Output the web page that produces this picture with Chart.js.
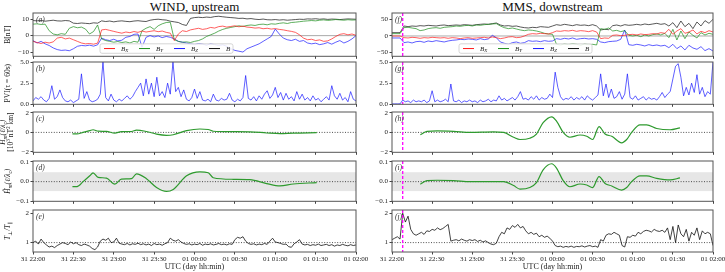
<!DOCTYPE html>
<html>
<head>
<meta charset="utf-8">
<script src="https://cdn.jsdelivr.net/npm/chart.js@4.4.0/dist/chart.umd.min.js"></script>
<style>
body { margin: 0; background: #fff; width: 725px; height: 272px; overflow: hidden; position: relative; }
canvas { position: absolute; }
.ttl { position: absolute; top: -1px; line-height: 14px; font: 13px "Liberation Serif", serif; text-align: center; color: #111; }
</style>
</head>
<body>
<div class="ttl" style="left:33px;width:323px">WIND, upstream</div>
<div class="ttl" style="left:392px;width:321px">MMS, downstream</div>
<script>
// time axis, minutes after 31 22:00
const X_TICKS = [0, 30, 60, 90, 120, 150, 180, 210, 240];
const X_TICK_LABELS = ['31 22:00', '31 22:30', '31 23:00', '31 23:30', '01 00:00', '01 00:30', '01 01:00', '01 01:30', '01 02:00'];
const SERIES_NAMES = ['B_X', 'B_Y', 'B_Z', 'B'];
const SHOCK_TIME = 8;
const BAND = 0.048;

// sample times (min) of the field, PVI and temperature records
const T3 = Array.from({ length: 81 }, (_, i) => 3 * i);
const T2 = Array.from({ length: 121 }, (_, i) => 2 * i);

const windBx = [-3.5,-4.2,-4.8,-4.0,-4.5,-3.8,-1.5,-1.0,-2.0,-1.5,
  -2.5,-3.5,-4.5,-5.0,-4.8,-5.2,-4.6,3.5,3.8,3.2,
  2.6,2.0,1.5,2.2,1.8,2.5,2.0,2.8,2.2,2.6,
  3.0,2.4,2.8,2.0,1.5,-3.0,1.0,3.0,2.5,3.5,
  4.0,4.5,3.8,4.2,5.0,4.6,5.5,5.8,5.2,5.6,
  6.0,5.4,5.8,5.2,5.0,4.6,4.8,4.2,4.5,4.0,
  4.3,3.8,3.5,3.0,2.6,2.0,0.5,-1.5,-2.5,-2.2,
  -3.0,-2.6,-3.5,-3.2,-2.0,-0.5,0.8,1.2,0.5,1.0,
  0.2];
const windBy = [7.0,7.2,6.8,7.0,3.0,1.0,0.5,1.2,0.8,4.5,
  5.5,4.8,5.2,4.0,1.0,2.5,6.5,-2.0,-3.0,-3.5,
  -4.0,-3.6,-4.2,-3.8,-4.5,-3.5,-4.0,3.0,4.5,5.5,
  3.8,6.0,7.2,8.0,8.2,-2.5,-3.5,-4.0,-3.8,-4.2,
  -3.5,-3.0,-2.0,-0.5,0.5,1.5,2.8,3.8,4.5,5.0,
  5.5,6.0,5.6,6.2,6.5,6.2,6.8,7.0,6.6,7.2,
  7.0,7.5,7.8,7.4,8.0,8.2,8.5,8.8,9.0,9.2,
  9.0,9.4,9.6,9.3,9.5,9.8,9.6,9.4,9.7,9.5,
  9.6];
const windBz = [-3.0,-4.5,-3.5,-5.0,-6.0,-7.5,-8.5,-9.0,-8.8,-9.2,
  -8.0,-6.5,-6.0,-6.2,-5.8,-6.4,-5.6,-1.5,-2.5,-3.0,
  -2.2,-3.2,-2.8,-1.0,-0.5,0.8,1.0,-7.0,-1.0,0.0,
  -0.8,-0.2,-1.2,-0.5,-1.0,-2.0,-3.5,-4.0,-4.5,-5.0,
  -5.5,-4.8,-5.2,-5.8,-5.0,-5.5,-6.0,-5.6,-6.5,-8.0,
  -9.0,-9.5,-10.0,-8.0,-7.0,-6.0,-5.0,-3.5,-2.0,-0.5,
  4.0,1.0,-1.5,-2.5,-3.0,-2.2,-3.5,-3.0,-4.5,-5.0,
  -4.6,-5.5,-5.0,-4.2,-5.2,-4.0,-3.0,-4.5,-3.5,-2.0,
  0.0];
const windB = [9.2,9.0,9.3,8.8,9.1,9.4,9.0,8.9,9.2,9.0,
  7.6,7.4,7.7,7.5,7.3,7.8,7.6,9.0,8.6,8.9,
  8.4,8.8,9.0,8.7,8.5,8.9,9.1,8.8,8.6,9.4,
  9.8,10.0,9.7,9.5,8.8,8.4,8.0,6.8,6.2,10.5,
  11.0,11.2,11.0,11.3,11.1,11.6,11.8,11.5,11.2,11.0,
  10.8,10.5,10.6,10.2,10.4,10.0,9.8,10.1,9.7,9.6,
  9.8,9.5,9.7,9.4,9.6,9.8,10.0,9.9,10.2,10.1,
  10.3,10.0,10.2,9.9,10.1,10.0,9.8,10.0,10.2,10.1,
  10.0];

const mmsBx = [0,0,0,-5,-6,-4,-5,-7,-5,-6,
  -4,-5,-6,-5,-7,-5,-6,-8,-6,-5,
  -7,-6,-5,-4,-6,-3,-5,-8,-6,-3,
  -2,-5,-4,0,5,7,6,8,7,6,
  10,15,14,16,15,17,14,16,15,13,
  16,12,-8,-6,-7,2,3,1,2,4,
  5,3,6,4,5,7,6,10,8,20,
  5,15,22,8,12,18,6,14,10,16,
  12];
const mmsBy = [7,7,7,25,26,24,22,16,18,22,
  24,25,23,26,27,28,30,29,31,32,
  30,33,32,34,35,36,37,30,25,22,
  24,21,18,16,18,17,15,12,8,6,
  5,-25,-27,-24,-26,-23,-25,-28,-24,-26,
  -25,-27,22,20,24,15,17,13,16,2,
  0,2,-2,3,0,4,6,3,8,-5,
  20,-12,15,-8,12,2,-6,10,3,8,
  5];
const mmsBz = [-6,-6,-6,-20,-18,-21,-17,-16,-19,-15,
  -17,-14,-16,-18,-15,-13,-12,-10,-11,-9,
  -10,-12,-8,-11,-9,2,-5,-18,-22,-25,
  -20,-18,-22,-20,-14,-16,-15,-17,-14,-16,
  -15,-8,-10,-7,-9,-6,-10,-8,-7,-9,
  -8,-10,-18,-20,-17,-16,-15,-10,18,-26,
  -28,-25,-27,-30,-26,-29,-27,-30,-28,-35,
  -25,-38,-30,-42,-28,-36,-40,-32,-44,-38,
  -45];
const mmsB = [10,10,10,30,28,30,29,31,30,32,
  31,30,32,33,31,32,33,32,34,33,
  32,34,35,36,35,37,39,33,30,31,
  29,30,27,25,24,26,25,28,27,26,
  30,34,32,35,33,31,34,32,33,31,
  34,30,18,20,19,31,33,30,34,32,
  33,35,33,36,34,36,38,35,37,30,
  40,25,45,28,38,22,42,30,46,38,
  50];

const windPvi = [0.4,0.8,0.6,0.9,0.5,0.3,0.7,2.2,0.6,0.9,
  1.7,0.8,0.4,0.3,0.5,0.2,0.4,0.6,3.6,0.7,
  1.5,0.5,0.3,0.4,0.6,1.2,5.0,0.8,0.4,1.2,
  0.5,0.3,0.6,0.4,0.7,1.0,0.6,0.9,1.5,2.0,
  2.5,1.0,3.0,1.2,2.5,0.9,3.2,1.0,1.5,0.8,
  2.5,1.2,5.0,1.5,2.0,0.9,1.7,0.6,0.4,0.8,
  1.8,0.7,1.5,0.5,0.4,0.6,0.3,1.2,0.5,0.4,
  0.7,0.5,0.6,1.3,0.5,0.3,0.6,0.4,0.8,3.4,
  0.7,0.5,0.9,0.4,1.0,0.6,1.2,1.6,0.7,1.1,
  2.0,0.8,1.4,0.5,1.3,0.6,0.9,0.4,1.5,0.6,
  1.2,0.5,0.8,0.4,1.0,0.5,0.7,0.3,0.6,0.9,
  0.5,2.2,1.0,0.6,1.3,0.5,0.8,0.3,1.5,0.6,
  0.4];
const mmsPvi = [0.05,0.05,0.05,0.05,0.5,0.3,0.4,0.2,0.5,0.3,
  0.4,0.3,0.5,0.2,0.4,1.6,0.3,0.5,0.3,0.4,
  0.6,0.3,2.4,0.4,0.3,0.5,0.2,0.4,0.3,0.5,
  0.3,0.4,0.2,0.5,0.3,0.4,0.6,0.3,0.5,0.4,
  1.0,0.5,0.7,0.4,0.6,0.8,0.5,0.9,1.5,0.6,
  0.7,0.5,0.9,0.6,1.0,0.5,0.8,0.6,0.7,1.2,
  0.8,3.8,2.0,0.9,0.5,0.7,0.6,0.9,0.5,0.8,
  0.6,0.9,0.5,1.0,0.7,0.5,0.8,1.1,3.6,1.0,
  2.4,0.8,1.8,0.7,0.9,1.5,0.6,1.2,3.6,0.8,
  0.6,1.0,0.5,0.7,0.9,0.5,0.8,0.6,0.7,0.5,
  0.9,1.4,0.8,1.2,1.5,3.0,4.5,4.8,3.2,1.0,
  2.0,1.1,2.5,1.4,3.5,1.2,2.0,0.9,1.5,1.2,
  5.0];

const windHTimes = [29.3,32.7,37.2,42.2,44.6,48.4,54.6,60.8,65.7,73.2,76.9,84.3,91.8,99.2,104.2,114.1,124.0,130.2,133.9,148.8,161.2,173.6,183.5,193.4,210.8];
const windHm = [-0.15,-0.15,0.0,0.18,0.27,0.13,0.1,-0.08,0.08,0.09,0.24,0.09,-0.18,-0.3,-0.24,0.18,0.35,0.3,0.12,0.07,0.06,-0.06,-0.13,-0.07,-0.03];
const windHmNorm = [-0.025,-0.025,0.0,0.03,0.045,0.022,0.018,-0.013,0.013,0.015,0.04,0.015,-0.03,-0.05,-0.04,0.03,0.05,0.045,0.02,0.012,0.01,-0.01,-0.022,-0.012,-0.005];

const mmsHTimes = [21.2,26.1,33.6,46.1,58.5,75.9,83.4,90.9,95.7,103,108,113,119.4,123,128,133,140.6,145.6,150,154.8,159.3,164.3,171.7,175.5,179.2,185.4,190.4,197.9,207.9,215.3];
const mmsHm = [-0.25,0.1,0.15,0.1,0.0,0.05,0.0,-0.5,-0.73,-0.6,-0.17,1.0,1.6,1.17,0.0,-0.5,-0.27,-0.4,-0.73,0.6,-0.17,-0.4,-1.07,-0.73,0.0,0.77,0.77,0.4,0.27,0.47];
const mmsHmNorm = [-0.013,0.005,0.007,0.005,0.0,0.0,0.0,-0.02,-0.038,-0.03,-0.005,0.06,0.091,0.069,0.005,-0.026,-0.012,-0.017,-0.03,0.026,-0.009,-0.022,-0.043,-0.03,0.0,0.029,0.029,0.017,0.009,0.019];

const windTratio = [1.0,1.05,0.95,1.12,1.0,0.92,0.85,0.88,0.83,0.9,
  0.95,1.0,0.97,0.93,1.02,0.96,1.0,0.93,0.9,0.95,
  0.92,0.88,0.8,0.76,0.85,1.05,1.12,1.08,1.15,1.0,
  1.02,1.15,0.98,0.95,0.93,0.97,0.92,0.96,0.94,0.98,
  0.93,0.96,0.92,0.95,0.9,0.97,0.93,0.95,0.91,0.96,
  1.0,1.15,1.08,1.05,1.1,1.02,0.97,0.94,0.96,0.92,
  0.95,0.93,0.97,0.91,0.95,0.93,0.96,0.92,0.94,0.97,
  0.93,0.95,0.92,0.96,0.94,1.1,1.18,1.15,1.2,1.05,
  0.97,0.94,0.96,0.92,0.95,0.93,0.97,0.94,1.05,1.15,
  1.02,1.0,0.97,0.94,0.95,0.86,0.84,0.96,1.02,1.1,
  0.95,0.92,0.94,0.9,0.93,0.91,0.95,0.9,0.92,0.94,
  0.9,0.93,0.88,0.92,0.9,0.94,0.91,0.89,0.93,0.9,
  0.92];
const mmsTratio = [1.1,1.15,1.2,1.12,2.0,1.7,1.9,1.45,1.3,1.25,
  1.3,1.35,1.28,1.4,1.38,1.45,1.42,1.5,1.44,1.48,
  1.55,1.62,1.05,1.08,1.1,1.06,1.12,1.08,1.05,1.1,
  1.07,1.1,1.04,1.08,1.02,1.06,1.0,0.95,0.93,0.98,
  1.2,1.35,1.3,1.5,1.45,1.58,1.52,1.62,1.5,1.55,
  1.4,1.3,1.35,1.28,1.32,1.2,1.25,1.18,1.22,1.15,
  1.05,0.9,0.86,0.88,0.84,0.87,0.85,0.88,0.84,0.87,
  0.86,0.89,0.85,0.88,0.9,0.86,0.88,0.84,1.1,1.05,
  1.25,1.3,1.28,1.35,1.3,1.25,0.9,0.85,1.2,1.18,
  1.25,1.22,1.35,1.3,1.38,1.42,1.4,1.36,1.45,1.4,
  1.38,1.42,1.35,1.5,1.1,1.55,1.0,1.6,1.3,1.2,
  1.45,1.05,1.35,1.25,1.5,1.1,1.4,1.3,1.35,1.3,
  0.9];

// y ticks per panel kind
const WIND_B_TICKS = [-10, 0, 10];
const MMS_B_TICKS = [-50, 0, 50];
const PVI_TICKS = [0, 2.5, 5];
const HM_TICKS = [-2, 0, 2];
const HMN_TICKS = [-0.1, 0, 0.1];
const T_TICKS = [1, 2];

const SERIF = '"Liberation Serif", "DejaVu Serif", serif';
const COLS = [
  { left: 0, width: 380, plotL: 33, plotR: 356 },
  { left: 362, width: 363, plotL: 392, plotR: 713 }
];
const ROWS = [[13, 57], [62, 105], [112, 153], [161, 202], [210, 252]];

function pts(times, vals) {
  return vals.map((v, i) => ({ x: times[i], y: v }));
}

function fmt(v, dec) {
  const s = Math.abs(v).toFixed(dec);
  return v < 0 ? '\u2212' + s : s;
}

// tiny markup: _x or _{..} subscript, ^x or ^{..} superscript
function richParts(s) {
  const out = [];
  let i = 0;
  while (i < s.length) {
    const ch = s[i];
    if ((ch === '_' || ch === '^') && i + 1 < s.length) {
      let txt;
      if (s[i + 1] === '{') {
        const k = s.indexOf('}', i + 1);
        txt = s.slice(i + 2, k);
        i = k + 1;
      } else {
        txt = s[i + 1];
        i += 2;
      }
      out.push({ t: txt, k: ch === '_' ? 'sub' : 'sup' });
    } else {
      let j = i;
      while (j < s.length && s[j] !== '_' && s[j] !== '^') j++;
      out.push({ t: s.slice(i, j), k: 'n' });
      i = j;
    }
  }
  return out;
}

function setFont(ctx, size, italic) {
  ctx.font = (italic ? 'italic ' : '') + size + 'px ' + SERIF;
}

function drawRich(ctx, s, x, y, size, italic, align) {
  const parts = richParts(s);
  let w = 0;
  parts.forEach(q => {
    setFont(ctx, q.k === 'n' ? size : size * 0.7, italic);
    w += ctx.measureText(q.t).width;
  });
  let cx = align === 'center' ? x - w / 2 : (align === 'right' ? x - w : x);
  ctx.textAlign = 'left';
  ctx.textBaseline = 'alphabetic';
  parts.forEach(q => {
    setFont(ctx, q.k === 'n' ? size : size * 0.7, italic);
    const dy = q.k === 'sub' ? size * 0.22 : (q.k === 'sup' ? -size * 0.38 : 0);
    ctx.fillText(q.t, cx, y + dy);
    cx += ctx.measureText(q.t).width;
  });
}

const deco = {
  id: 'deco',
  beforeDatasetsDraw(chart) {
    const p = chart.canvas.deco, ctx = chart.ctx, a = chart.chartArea;
    const y = chart.scales.y;
    ctx.save();
    if (p.band) {
      const y1 = y.getPixelForValue(p.band), y2 = y.getPixelForValue(-p.band);
      ctx.fillStyle = '#e6e6e6';
      ctx.fillRect(a.left, y1, a.right - a.left, y2 - y1);
    }
    if (p.ref) {
      const py = y.getPixelForValue(p.ref.value);
      ctx.strokeStyle = p.ref.dotted ? '#222' : '#aaa';
      ctx.lineWidth = p.ref.dotted ? 0.8 : 1;
      ctx.setLineDash(p.ref.dotted ? [1, 1.6] : []);
      ctx.beginPath();
      ctx.moveTo(a.left, py);
      ctx.lineTo(a.right, py);
      ctx.stroke();
    }
    ctx.restore();
  },
  afterDatasetsDraw(chart) {
    const p = chart.canvas.deco, ctx = chart.ctx, a = chart.chartArea;
    const x = chart.scales.x;
    ctx.save();
    if (p.shock) {
      const px = x.getPixelForValue(SHOCK_TIME);
      ctx.strokeStyle = '#ff00ff';
      ctx.lineWidth = 1.3;
      ctx.setLineDash([3, 2]);
      ctx.beginPath();
      ctx.moveTo(px, a.top);
      ctx.lineTo(px, a.bottom);
      ctx.stroke();
      ctx.setLineDash([]);
    }
    // frame
    ctx.strokeStyle = '#555';
    ctx.lineWidth = 1;
    ctx.strokeRect(a.left, a.top, a.right - a.left, a.bottom - a.top);
    // panel letter
    ctx.fillStyle = '#333';
    setFont(ctx, 7.5, true);
    ctx.textAlign = 'left';
    ctx.textBaseline = 'middle';
    ctx.fillText(p.label, a.left + 3, a.top + 7);
    // legend
    if (p.legend) {
      const lx = a.left + 67, lw = 133, lh = 9.5, ly = a.bottom - 3 - lh;
      ctx.fillStyle = 'rgba(255,255,255,0.85)';
      ctx.strokeStyle = '#ccc';
      ctx.lineWidth = 0.8;
      ctx.beginPath();
      ctx.roundRect(lx, ly, lw, lh, 2);
      ctx.fill();
      ctx.stroke();
      chart.data.datasets.forEach((d, i) => {
        const ex = lx + 4 + i * 35, cy = ly + lh / 2;
        ctx.strokeStyle = d.borderColor;
        ctx.lineWidth = 1;
        ctx.beginPath();
        ctx.moveTo(ex, cy);
        ctx.lineTo(ex + 11, cy);
        ctx.stroke();
        ctx.fillStyle = '#222';
        drawRich(ctx, d.label, ex + 17, cy + 2.2, 7, true, 'left');
      });
    }
    // y axis label(s)
    if (p.ylab) {
      const cy = (a.top + a.bottom) / 2;
      p.ylab.forEach((line, i) => {
        ctx.save();
        ctx.translate(p.ylabX[i], cy);
        ctx.rotate(-Math.PI / 2);
        ctx.fillStyle = '#222';
        drawRich(ctx, line, 0, 2.4, 7.5, p.ylabItalic[i], 'center');
        ctx.restore();
      });
    }
    ctx.restore();
  }
};
Chart.register(deco);

function makePanel(col, row, p) {
  const C = COLS[col], R = ROWS[row];
  const bottomRow = row === ROWS.length - 1;
  const top = R[0] - 6;
  const bottom = bottomRow ? 272 : R[1] + 5;
  const h = bottom - top;
  const cv = document.createElement('canvas');
  cv.width = C.width;
  cv.height = h;
  cv.style.left = C.left + 'px';
  cv.style.top = top + 'px';
  cv.style.width = C.width + 'px';
  cv.style.height = h + 'px';
  cv.deco = p;
  document.body.appendChild(cv);
  const ml = C.plotL - C.left, mr = C.left + C.width - C.plotR;
  const mt = R[0] - top, mb = bottom - R[1];
  const tickFont = { family: SERIF, size: 7 };

  new Chart(cv, {
    type: 'line',
    data: { datasets: p.series },
    options: {
      responsive: false,
      animation: false,
      devicePixelRatio: 1,
      layout: { padding: { top: mt, right: mr, left: 0, bottom: 0 } },
      plugins: { legend: { display: false }, tooltip: { enabled: false } },
      elements: { point: { radius: 0 } },
      scales: {
        x: {
          type: 'linear', min: 0, max: 240, bounds: 'data',
          afterBuildTicks: s => { s.ticks = X_TICKS.map(v => ({ value: v })); },
          afterFit: s => { s.height = mb; s.paddingLeft = 0; s.paddingRight = 0; },
          ticks: { display: bottomRow, autoSkip: false, maxRotation: 0, padding: 0,
                   font: tickFont, color: '#222', callback: (v, i) => X_TICK_LABELS[i] },
          grid: { drawOnChartArea: false, drawTicks: true, tickLength: 2.5, color: '#444' },
          border: { display: false },
          title: { display: bottomRow, text: 'UTC (day hh:min)', padding: 0,
                   font: { family: SERIF, size: 8 }, color: '#222' }
        },
        y: {
          min: p.ymin, max: p.ymax, bounds: 'data',
          afterBuildTicks: s => { s.ticks = p.yticks.map(v => ({ value: v })); },
          afterFit: s => { s.width = ml; },
          ticks: { padding: 1.5, font: tickFont, color: '#222',
                   callback: (v, i) => fmt(p.yticks[i], p.ydec) },
          grid: { drawOnChartArea: false, drawTicks: true, tickLength: 2.5, color: '#444' },
          border: { display: false }
        }
      }
    }
  });
}

function line(data, color, width, smooth) {
  return {
    data: data, borderColor: color, borderWidth: width, fill: false,
    cubicInterpolationMode: smooth ? 'monotone' : 'default', tension: 0
  };
}

function bSeries(bx, by, bz, b) {
  return [bx, by, bz, b].map((v, i) => {
    const d = line(pts(T3, v), ['#ff1a1a', '#1a8c1a', '#1a1aff', '#111'][i], 0.7, false);
    d.label = SERIES_NAMES[i];
    return d;
  });
}

const HCOL = '#2e9a2e';
const panelSpecs = [
  // WIND column
  [0, 0, { label: '(a)', series: bSeries(windBx, windBy, windBz, windB), legend: true,
    ymin: -12.6, ymax: 13.8, yticks: WIND_B_TICKS, ydec: 0, ref: { value: 0, dotted: false },
    ylab: ['B[nT]'], ylabX: [7.5], ylabItalic: [false] }],
  [0, 1, { label: '(b)', series: [line(pts(T2, windPvi), '#1a1aff', 0.7, false)],
    ymin: 0, ymax: 5, yticks: PVI_TICKS, ydec: 1,
    ylab: ['PVI(\u03c4 = 60s)'], ylabX: [7.5], ylabItalic: [false] }],
  [0, 2, { label: '(c)', series: [line(pts(windHTimes, windHm), HCOL, 1.2, true)],
    ymin: -2.05, ymax: 2.1, yticks: HM_TICKS, ydec: 0, ref: { value: 0, dotted: true },
    ylab: ['H_m(\u2113/\u03bb_c)', '[10^3 nT^2 km]'], ylabX: [3, 10.5], ylabItalic: [true, false] }],
  [0, 3, { label: '(d)', series: [line(pts(windHTimes, windHmNorm), HCOL, 1.2, true)],
    ymin: -0.1, ymax: 0.105, yticks: HMN_TICKS, ydec: 1, band: BAND, ref: { value: 0, dotted: true },
    ylab: ['\u0124_m(\u2113/\u03bb_c)'], ylabX: [7.5], ylabItalic: [true] }],
  [0, 4, { label: '(e)', series: [line(pts(T2, windTratio), '#111', 0.8, false)],
    ymin: 0.68, ymax: 2.11, yticks: T_TICKS, ydec: 0, ref: { value: 1, dotted: true },
    ylab: ['T_\u22a5/T_\u2225'], ylabX: [7.5], ylabItalic: [true] }],
  // MMS column
  [1, 0, { label: '(f)', series: bSeries(mmsBx, mmsBy, mmsBz, mmsB), legend: true, shock: true,
    ymin: -61, ymax: 69, yticks: MMS_B_TICKS, ydec: 0, ref: { value: 0, dotted: false } }],
  [1, 1, { label: '(g)', series: [line(pts(T2, mmsPvi), '#1a1aff', 0.7, false)], shock: true,
    ymin: 0, ymax: 5, yticks: PVI_TICKS, ydec: 1 }],
  [1, 2, { label: '(h)', series: [line(pts(mmsHTimes, mmsHm), HCOL, 1.2, true)], shock: true,
    ymin: -2.05, ymax: 2.1, yticks: HM_TICKS, ydec: 0, ref: { value: 0, dotted: true } }],
  [1, 3, { label: '(i)', series: [line(pts(mmsHTimes, mmsHmNorm), HCOL, 1.2, true)], shock: true,
    ymin: -0.1, ymax: 0.105, yticks: HMN_TICKS, ydec: 1, band: BAND, ref: { value: 0, dotted: true } }],
  [1, 4, { label: '(j)', series: [line(pts(T2, mmsTratio), '#111', 0.8, false)], shock: true,
    ymin: 0.68, ymax: 2.11, yticks: T_TICKS, ydec: 0, ref: { value: 1, dotted: true } }]
];

panelSpecs.forEach(s => makePanel(s[0], s[1], s[2]));
</script>
</body>
</html>
